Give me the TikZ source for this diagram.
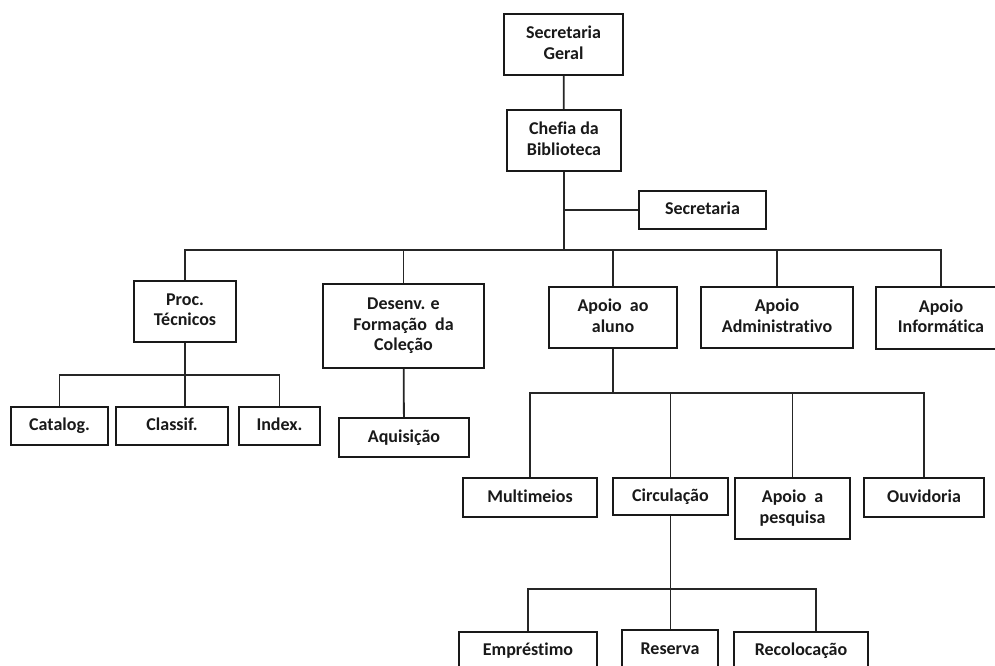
\documentclass[tikz,border=0pt]{standalone}
\usepackage{fontspec}
\setmainfont{Carlito}[Ligatures={NoCommon}]
\tikzset{
  box/.style={draw=black!90, line width=1.3pt, inner sep=0pt, align=center,
    font=\fontsize{13.5}{15.5}\selectfont\bfseries, text=black!90},
  sz/.style 2 args={minimum width=#1*0.75pt, minimum height=#2*0.75pt},
  link/.style={draw=black!85, line width=1.35pt}
}
\newcommand\dsp{\hspace{0.45em}}
\newcommand\sst{\rule[-2.65pt]{0pt}{11.35pt}}
\begin{document}
\begin{tikzpicture}[x=0.75pt,y=-0.75pt]
\useasboundingbox (0,0) rectangle (995,665);
\clip (0,0) rectangle (995,665);
\fill[white] (0,0) rectangle (995,665);
% nodes (center, width, height in px)
\node[box, sz={119}{61}] (sg) at (563.5,44.5) {\sst Secretaria\\\sst Geral};
\node[box, sz={114}{61}] (ch) at (564,140.5) {\sst Chefia da\\\sst Biblioteca};
\node[box, sz={127}{38}] (sec) at (702.5,210) {\sst Secretaria};
\node[box, sz={102}{61}] (pt) at (185,311.5) {\sst Proc.\\\sst Técnicos};
\node[box, sz={161}{84}] (df) at (403.5,326) {\sst Desenv. e\\\sst Formação\dsp da\\\sst Coleção};
\node[box, sz={128}{61}] (aa) at (613,317.5) {\sst Apoio\dsp ao\\\sst aluno};
\node[box, sz={152}{61}] (ad) at (777,317.5) {\sst Apoio\\\sst Administrativo};
\node[box, sz={130}{62}] (ai) at (941,318) {\sst Apoio\\\sst Informática};
\node[box, sz={97}{38}] (cat) at (59.5,426) {\sst Catalog.};
\node[box, sz={112}{38}] (cla) at (172,426) {\sst Classif.};
\node[box, sz={81}{38}] (idx) at (279.5,426) {\sst Index.};
\node[box, sz={130}{39}] (aq) at (404,437.5) {\sst Aquisição};
\node[box, sz={134}{39}] (mm) at (530,497.5) {\sst Multimeios};
\node[box, sz={115}{37}] (ci) at (670.5,496.5) {\sst Circulação};
\node[box, sz={115}{61}] (ap) at (792.5,508.5) {\sst Apoio\dsp a\\\sst pesquisa};
\node[box, sz={120}{39}] (ou) at (924,497.5) {\sst Ouvidoria};
\node[box, sz={138}{38}] (em) at (528,651) {\sst Empréstimo};
\node[box, sz={96}{40}] (re) at (670,650) {\sst Reserva};
\node[box, sz={134}{38}] (rc) at (801,651) {\sst Recolocação};
% bus coordinates
\coordinate (b1) at (564,250);
\coordinate (b2) at (0,375);
\coordinate (b3) at (0,393);
\coordinate (b4) at (0,589);
\coordinate (rcd) at (816,589);
% connectors
\draw[link] (sg) -- (ch);
\draw[link] (ch.south) -- (ch.south |- b1);
\draw[link] (ch.south |- sec.west) -- (sec.west);
\draw[link] (pt.north) -- (pt.north |- b1) -- (ai.north |- b1) -- (ai.north);
\draw[link] (df.north) -- (df.north |- b1);
\draw[link] (aa.north) -- (aa.north |- b1);
\draw[link] (ad.north) -- (ad.north |- b1);
% Proc. Tecnicos children
\draw[link] (pt.south) -- (pt.south |- cla.north);
\draw[link] (cat.north) -- (cat.north |- b2) -- (idx.north |- b2) -- (idx.north);
% Desenv child
\draw[link] (df) -- (aq);
% Apoio ao aluno children
\draw[link] (aa.south) -- (aa.south |- b3);
\draw[link] (mm.north) -- (mm.north |- b3) -- (ou.north |- b3) -- (ou.north);
\draw[link] (ci.north) -- (ci.north |- b3);
\draw[link] (ap.north) -- (ap.north |- b3);
% Circulacao children
\draw[link] (ci.south) -- (ci.south |- re.north);
\draw[link] (em.north) -- (em.north |- b4) -- (rcd) -- (rcd |- rc.north);
\end{tikzpicture}
\end{document}
